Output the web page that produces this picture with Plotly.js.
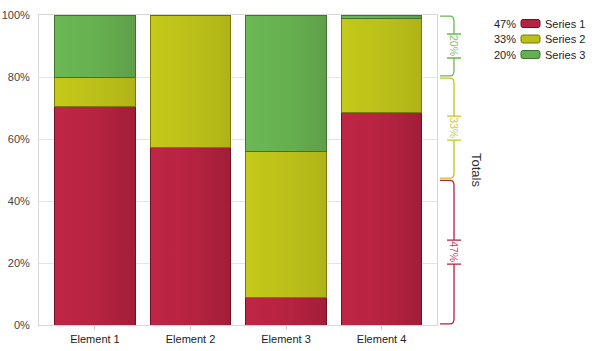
<!DOCTYPE html>
<html>
<head>
<meta charset="utf-8">
<script src="https://cdn.plot.ly/plotly-3.0.1.min.js"></script>
<style>html,body{margin:0;padding:0;background:#fff;}#chart{width:592px;height:351px;}</style>
</head>
<body>
<div id="chart"></div>
<script>
// ---- data ----
const categories = ['Element 1', 'Element 2', 'Element 3', 'Element 4'];
const seriesNames = ['Series 1', 'Series 2', 'Series 3'];
const series1 = [70.6, 57.4, 9.0, 68.4];
const series2 = [9.4, 42.6, 47.1, 30.5];
const series3 = [20.0, 0.0, 43.9, 1.1];
const totals = [47, 33, 20];
const yTicks = [0, 20, 40, 60, 80, 100];

// ---- styles ----
const fillColors = ['#B52340', '#BBBF19', '#66AF50'];
const gradLeft = ['#BF2645', '#C4C91A', '#6BB855'];
const gradRight = ['#A21D38', '#B0B317', '#5E9F49'];
const lineColors = ['#6E1326', '#7A7B06', '#3E7330'];
const bracketColors = ['#B8203F', '#C2C617', '#6CB84F'];
const labelColors = ['#C4405A', '#C8CC3A', '#7DC063'];
const font = 'Liberation Sans, Arial, sans-serif';

const seriesVals = [series1, series2, series3];
const traces = seriesVals.map((vals, i) => ({
  type: 'bar',
  x: categories,
  y: vals,
  name: seriesNames[i],
  width: 0.84,
  marker: {color: fillColors[i], line: {color: lineColors[i], width: 1}},
  showlegend: false,
  hoverinfo: 'skip'
}));

// plot-area geometry (px) for converting paper coordinates
const L = 39, R = 437, T = 15, B = 325;
const W = R - L, H = B - T;
const px = v => (v - L) / W;
const py = v => (B - v) / H;

const shapes = [];
const annotations = [];

// bracket totals on the right
const xv = px(454), xs = px(440), xr = px(450);
const xt0 = px(447), xt1 = px(461);
const ry = 5 / H * 100;     // corner radius in data units
const gap = 12 / H * 100;   // half gap around label
let cum = 0;
totals.forEach((t, i) => {
  const y0 = cum, y1 = cum + t, mid = (y0 + y1) / 2;
  cum = y1;
  const y0a = y0 + 0.35, y1a = y1 - 0.35;
  const path =
    `M ${xs},${y1a} L ${xr},${y1a} Q ${xv},${y1a} ${xv},${y1a - ry} L ${xv},${mid + gap} ` +
    `M ${xt0},${mid + gap} L ${xt1},${mid + gap} ` +
    `M ${xt0},${mid - gap} L ${xt1},${mid - gap} ` +
    `M ${xv},${mid - gap} L ${xv},${y0a + ry} Q ${xv},${y0a} ${xr},${y0a} L ${xs},${y0a}`;
  shapes.push({type: 'path', xref: 'paper', yref: 'y', path: path,
    line: {color: bracketColors[i], width: 1.3}});
  annotations.push({xref: 'paper', yref: 'y', x: xv, y: mid, xanchor: 'center', yanchor: 'middle',
    text: t + '%', showarrow: false, textangle: 90,
    font: {family: font, size: 10.5, color: labelColors[i]}});
});

annotations.push({xref: 'paper', yref: 'paper', x: px(477), y: 0.5, xanchor: 'center', yanchor: 'middle',
  text: 'Totals', showarrow: false, textangle: 90, font: {family: font, size: 13, color: '#333'}});

// legend (manual)
const rowY = [23.5, 39, 54.5];
seriesNames.forEach((n, i) => {
  const yc = py(rowY[i]);
  annotations.push({xref: 'paper', yref: 'paper', x: px(518), y: yc, xanchor: 'right', yanchor: 'middle',
    text: totals[i] + '%', showarrow: false, font: {family: font, size: 11, color: '#222'}});
  annotations.push({xref: 'paper', yref: 'paper', x: px(543), y: yc, xanchor: 'left', yanchor: 'middle',
    text: n, showarrow: false, font: {family: font, size: 11, color: '#222'}});
  const x0 = px(521), x1 = px(540), r = 2 / W, rv = 2 / H;
  const ya = py(rowY[i] + 4), yb = py(rowY[i] - 4);
  const p = `M ${x0 + r},${ya} L ${x1 - r},${ya} Q ${x1},${ya} ${x1},${ya + rv} L ${x1},${yb - rv} ` +
    `Q ${x1},${yb} ${x1 - r},${yb} L ${x0 + r},${yb} Q ${x0},${yb} ${x0},${yb - rv} L ${x0},${ya + rv} Q ${x0},${ya} ${x0 + r},${ya} Z`;
  shapes.push({type: 'path', xref: 'paper', yref: 'paper', path: p,
    fillcolor: fillColors[i], line: {color: lineColors[i], width: 1}});
});

const layout = {
  width: 592, height: 351,
  margin: {l: L, r: 592 - R, t: T, b: 351 - B, pad: 0},
  paper_bgcolor: '#fff', plot_bgcolor: '#fff',
  barmode: 'stack',
  font: {family: font, size: 11, color: '#333'},
  xaxis: {
    range: [-0.586, 3.58], showgrid: false, showline: true, linecolor: '#D8D8D8', linewidth: 1,
    mirror: true, ticks: 'outside', ticklen: 4, tickcolor: '#CCCCCC', tickfont: {size: 11, color: '#222'},
    fixedrange: true
  },
  yaxis: {
    range: [0, 100], tickvals: yTicks, ticktext: yTicks.map(v => v + '%'),
    showgrid: true, gridcolor: '#E6E6E6', gridwidth: 1, zeroline: false,
    showline: true, linecolor: '#D8D8D8', mirror: true, ticks: '', tickfont: {size: 11, color: '#444'},
    ticklabelstandoff: 6, fixedrange: true
  },
  shapes: shapes,
  annotations: annotations
};

Plotly.newPlot('chart', traces, layout, {displayModeBar: false, staticPlot: true}).then(gd => {
  // horizontal gradient fill for the bars
  const svg = gd.querySelector('svg.main-svg');
  const ns = 'http://www.w3.org/2000/svg';
  let defs = svg.querySelector('defs');
  if (!defs) { defs = document.createElementNS(ns, 'defs'); svg.insertBefore(defs, svg.firstChild); }
  fillColors.forEach((c, i) => {
    const g = document.createElementNS(ns, 'linearGradient');
    g.setAttribute('id', 'bargrad' + i);
    g.setAttribute('x1', '0'); g.setAttribute('y1', '0'); g.setAttribute('x2', '1'); g.setAttribute('y2', '0');
    const s0 = document.createElementNS(ns, 'stop');
    s0.setAttribute('offset', '0'); s0.setAttribute('stop-color', gradLeft[i]);
    const s1 = document.createElementNS(ns, 'stop');
    s1.setAttribute('offset', '0.55'); s1.setAttribute('stop-color', c);
    const s2 = document.createElementNS(ns, 'stop');
    s2.setAttribute('offset', '1'); s2.setAttribute('stop-color', gradRight[i]);
    g.appendChild(s0); g.appendChild(s1); g.appendChild(s2);
    defs.appendChild(g);
  });
  const traceGroups = gd.querySelectorAll('.barlayer .trace');
  traceGroups.forEach((tg, i) => {
    tg.querySelectorAll('.point path').forEach(p => { p.style.fill = 'url(#bargrad' + i + ')'; });
  });
});
</script>
</body>
</html>
